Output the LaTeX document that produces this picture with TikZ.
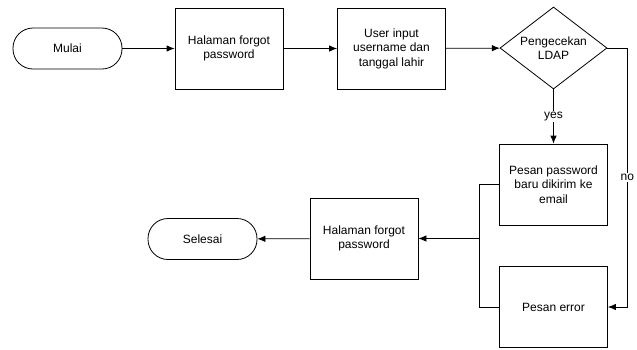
\documentclass[tikz,border=0pt]{standalone}
\usepackage{fontspec}
\setmainfont{Liberation Sans}
\usepackage{tikz}
\usetikzlibrary{arrows.meta,positioning,calc,shapes.geometric}

\begin{document}
\begin{tikzpicture}[x=1pt,y=-1pt,
  block/.style={draw,line width=0.8pt,align=center,inner sep=0pt,minimum width=108pt,minimum height=81pt,font=\fontsize{12}{14.5}\selectfont},
  term/.style={block,rounded corners=20pt,minimum width=109pt,minimum height=41pt},
  decide/.style={block,diamond,minimum width=107pt,minimum height=82pt},
  lbl/.style={fill=white,inner sep=1.5pt,font=\fontsize{12}{14.5}\selectfont},
  flow/.style={-{Latex[length=8pt,width=6.5pt]},line width=0.8pt}]
\useasboundingbox (0,0) rectangle (637,349);
\node[term] (mulai) at (67.5,48.5) {Mulai};
\node[block] (halaman) at (229,48.5) {Halaman forgot\\password};
\node[block] (input) at (391.5,48.5) {User input\\username dan\\tanggal lahir};
\node[decide,label={[align=center,font=\fontsize{12}{14.5}\selectfont]center:Pengecekan\\LDAP}] (ldap) at (553.5,48) {};
\node[block] (pesan) at (553.5,184.5) {Pesan password\\baru dikirim ke\\email};
\node[block] (error) at (553.5,307) {Pesan error};
\node[block] (kembali) at (364,238.5) {Halaman forgot\\password};
\node[term] (selesai) at (202.5,239) {Selesai};
\coordinate (gabung) at ([xshift=61pt]kembali.east);
\draw[flow] (mulai) -- (halaman);
\draw[flow] (halaman) -- (input);
\draw[flow] (input) -- (ldap);
\draw[flow] (ldap) -- node[lbl] {yes} (pesan);
\draw[flow] (ldap.east) -- ++(20,0) |- node[lbl,pos=0.25] {no} (error.east);
\draw[line width=0.8pt] (pesan.west) -| (gabung);
\draw[line width=0.8pt] (error.west) -| (gabung);
\draw[flow] (gabung) -- (kembali.east);
\draw[flow] (kembali) -- (selesai);
\end{tikzpicture}
\end{document}
